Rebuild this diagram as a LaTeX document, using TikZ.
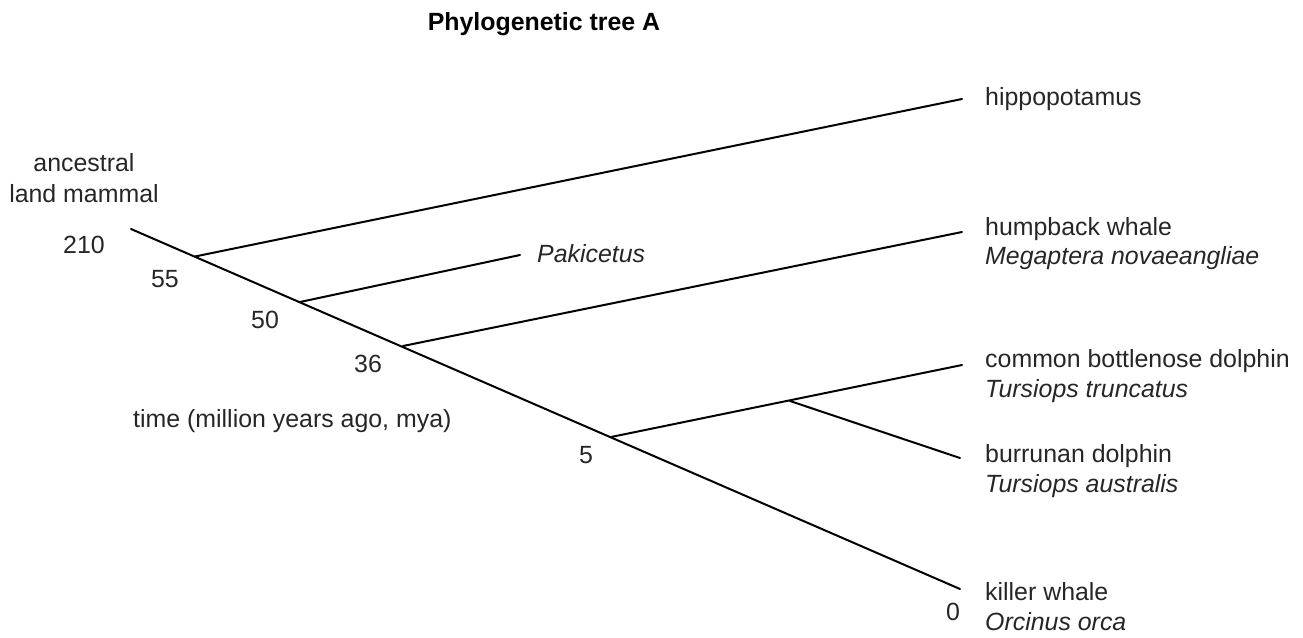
\documentclass[tikz,border=0pt]{standalone}
\usepackage{fontspec}
\setmainfont{Liberation Sans}
\begin{document}
\begin{tikzpicture}[x=1pt,y=-1pt,
  branch/.style={line width=2pt,line cap=round},
  lbl/.style={anchor=base west,inner sep=0pt,font=\fontsize{24.9}{29}\selectfont,text=black!85},
  num/.style={anchor=base,inner sep=0pt,font=\fontsize{24.9}{29}\selectfont,text=black!85}]
\useasboundingbox (0,0) rectangle (1303,637);
% branch points
\coordinate (root) at (131,229);
\coordinate (n55) at (195,256.5);
\coordinate (n50) at (300,302);
\coordinate (n36) at (403,346);
\coordinate (n5) at (611,437);
\coordinate (nd) at (790,401);
% tips
\coordinate (thippo) at (962,99);
\coordinate (tpak) at (520,255);
\coordinate (thump) at (962,232);
\coordinate (tbottle) at (962,365);
\coordinate (tburr) at (960,458);
\coordinate (tkiller) at (960,589);
% branches
\draw[branch] (root) -- (tkiller);
\draw[branch] (n55) -- (thippo);
\draw[branch] (n50) -- (tpak);
\draw[branch] (n36) -- (thump);
\draw[branch] (n5) -- (tbottle);
\draw[branch] (nd) -- (tburr);
% title
\node[anchor=base,inner sep=0pt,font=\fontsize{24.9}{29}\selectfont\bfseries] (title) at (544,30) {Phylogenetic tree A};
% left labels
\node[num] (anc1) at (84,171) {ancestral};
\node[num] (anc2) at (84,202) {land mammal};
\node[num] (l210) at (84,253) {210};
\node[num] (l55) at (165,287) {55};
\node[num] (l50) at (265,328) {50};
\node[num] (l36) at (368,372) {36};
\node[num] (l5) at (586,463) {5};
\node[num] (l0) at (953,620) {0};
\node[lbl] (time) at (133,427) {time (million years ago, mya)};
\node[lbl] (pak) at (537,262) {\itshape Pakicetus};
% tip labels
\node[lbl] (hippo) at (985,105) {hippopotamus};
\node[lbl] (hump) at (985,235) {humpback whale};
\node[lbl] (humpsp) at (985,264) {\itshape Megaptera novaeangliae};
\node[lbl] (bottle) at (985,367) {common bottlenose dolphin};
\node[lbl] (bottlesp) at (985,397) {\itshape Tursiops truncatus};
\node[lbl] (burr) at (985,462) {burrunan dolphin};
\node[lbl] (burrsp) at (985,492) {\itshape Tursiops australis};
\node[lbl] (killer) at (985,600) {killer whale};
\node[lbl] (killersp) at (985,630) {\itshape Orcinus orca};
\end{tikzpicture}
\end{document}
